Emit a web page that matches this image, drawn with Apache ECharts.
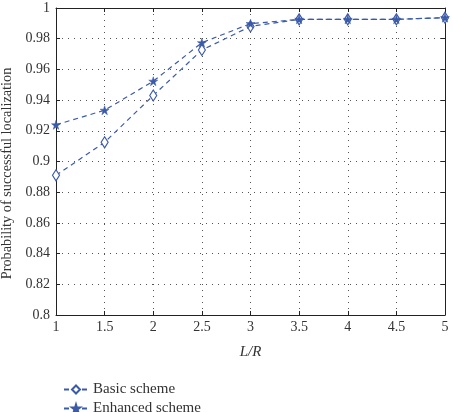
<!DOCTYPE html>
<html>
<head>
<meta charset="utf-8">
<script src="https://cdn.jsdelivr.net/npm/echarts@6/dist/echarts.min.js"></script>
<style>
  html, body { margin: 0; padding: 0; background: #fff; }
  #chart { width: 453px; height: 412px; }
</style>
</head>
<body>
<div id="chart"></div>
<script>
// L/R values on the x axis
const ratios = [1, 1.5, 2, 2.5, 3, 3.5, 4, 4.5, 5];
const basicScheme = [0.891, 0.9125, 0.943, 0.9726, 0.988, 0.9926, 0.9926, 0.9926, 0.9937];
const enhancedScheme = [0.9239, 0.9334, 0.9523, 0.9774, 0.9898, 0.9926, 0.9926, 0.9926, 0.9937];

const lineColor = "#3b5aa8";
const fontFamily = "Liberation Serif, DejaVu Serif, serif";
const starPath = "path://M50,0 L61.8,36.3 L100,36.3 L69.1,58.8 L80.9,95.1 L50,72.6 L19.1,95.1 L30.9,58.8 L0,36.3 L38.2,36.3 Z";

const pairs = (vals) => ratios.map((r, i) => [r, vals[i]]);

const chart = echarts.init(document.getElementById("chart"));

const dotted = { show: true, lineStyle: { color: "#555", type: [1, 5], width: 1 } };
const frameTick = { inside: true, length: 4, lineStyle: { color: "#222" } };

const option = {
  animation: false,
  textStyle: { fontFamily: fontFamily },
  grid: { left: 56, right: 8, top: 8, bottom: 97, containLabel: false, outerBoundsMode: "none" },
  legend: {
    orient: "vertical",
    left: 58,
    top: 377,
    height: 80,
    itemGap: 4,
    itemWidth: 24,
    itemHeight: 10,
    textStyle: { fontFamily: fontFamily, fontSize: 15, color: "#333" },
    data: ["Basic scheme", "Enhanced scheme"],
  },
  xAxis: [
    {
      type: "value",
      min: 1,
      max: 5,
      interval: 0.5,
      name: "L/R",
      nameLocation: "middle",
      nameGap: 30,
      nameTextStyle: { fontFamily: fontFamily, fontStyle: "italic", fontSize: 15, color: "#333" },
      axisLine: { lineStyle: { color: "#222", width: 1 } },
      axisTick: frameTick,
      axisLabel: { color: "#333", fontSize: 14, margin: 5 },
      splitLine: dotted,
    },
    {
      type: "value",
      position: "top",
      min: 1,
      max: 5,
      interval: 0.5,
      axisLine: { show: true, lineStyle: { color: "#222", width: 1 } },
      axisTick: frameTick,
      axisLabel: { show: false },
      splitLine: { show: false },
    },
  ],
  yAxis: [
    {
      type: "value",
      min: 0.8,
      max: 1,
      interval: 0.02,
      name: "Probability of successful localization",
      nameLocation: "middle",
      nameGap: 42,
      nameTextStyle: { fontFamily: fontFamily, fontSize: 14.3, color: "#333", padding: [0, 24, 0, 0] },
      axisLine: { show: true, lineStyle: { color: "#222", width: 1 } },
      axisTick: frameTick,
      axisLabel: { color: "#333", fontSize: 14, margin: 6 },
      splitLine: dotted,
    },
    {
      type: "value",
      position: "right",
      min: 0.8,
      max: 1,
      interval: 0.02,
      axisLine: { show: true, lineStyle: { color: "#222", width: 1 } },
      axisTick: frameTick,
      axisLabel: { show: false },
      splitLine: { show: false },
    },
  ],
  series: [
    {
      name: "Basic scheme",
      type: "line",
      data: pairs(basicScheme),
      symbol: "diamond",
      symbolSize: [7, 11],
      lineStyle: { color: lineColor, width: 1.2, type: [5, 4] },
      itemStyle: { color: "#fff", borderColor: lineColor, borderWidth: 1.2 },
    },
    {
      name: "Enhanced scheme",
      type: "line",
      data: pairs(enhancedScheme),
      symbol: starPath,
      symbolSize: 9,
      lineStyle: { color: lineColor, width: 1.2, type: [5, 4] },
      itemStyle: { color: lineColor, borderColor: lineColor, borderWidth: 0.5 },
    },
  ],
};

chart.setOption(option);
</script>
</body>
</html>
